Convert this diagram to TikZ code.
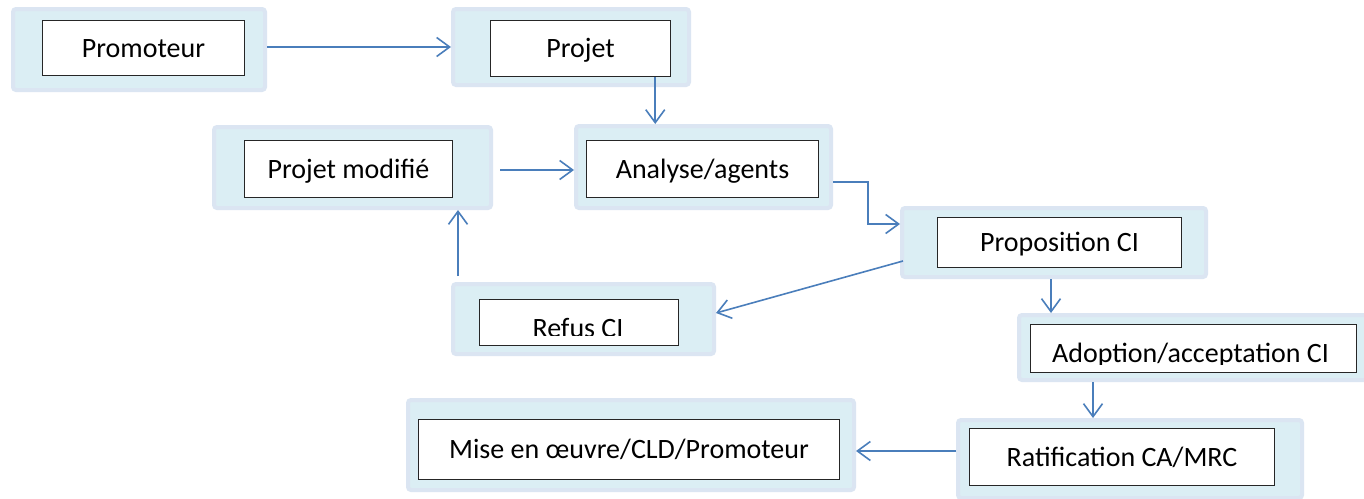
\documentclass[tikz,border=0pt]{standalone}
\usepackage{fontspec}
\setmainfont{Carlito}
\usetikzlibrary{arrows.meta,calc}
\definecolor{arrowblue}{RGB}{74,126,187}
\definecolor{outerfill}{RGB}{219,238,244}
\definecolor{outerline}{RGB}{219,229,242}
\begin{document}
\begin{tikzpicture}[x=1pt,y=-1pt,
  outerbox/.style={draw=outerline, fill=outerfill, line width=4pt, rounded corners=3pt, inner sep=0pt},
  innerbox/.style={draw=black!85, fill=white, line width=1.5pt, inner sep=0pt,
    font=\fontsize{28}{32}\selectfont, text height=18pt, text depth=0pt},
  txt/.style={inner sep=0pt, font=\fontsize{28}{32}\selectfont},
  arr/.style={draw=arrowblue, line width=1.6pt, -{Straight Barb[length=13pt,width=19pt]}}]
\clip (0,0) rectangle (1364,498);
\fill[white] (0,0) rectangle (1364,498);

% outer (light blue) boxes
\node[outerbox, minimum width=252pt, minimum height=81pt] (promO) at (139,49.5) {};
\node[outerbox, minimum width=236pt, minimum height=76pt] (projO) at (571,47) {};
\node[outerbox, minimum width=277pt, minimum height=81pt] (pmO) at (352.5,167.5) {};
\node[outerbox, minimum width=255pt, minimum height=82pt] (anaO) at (703.5,167) {};
\node[outerbox, minimum width=304pt, minimum height=69pt] (propO) at (1054,242.5) {};
\node[outerbox, minimum width=261pt, minimum height=70pt] (refO) at (583.5,319) {};
\node[outerbox, minimum width=351pt, minimum height=65pt] (adoO) at (1194.5,347.5) {};
\node[outerbox, minimum width=446pt, minimum height=90pt] (mO) at (631,445) {};
\node[outerbox, minimum width=344pt, minimum height=78pt] (ratO) at (1130,459) {};

% inner (white) boxes
\node[innerbox, minimum width=202pt, minimum height=55pt] (promI) at (143.5,48) {Promoteur};
\node[innerbox, minimum width=180pt, minimum height=56pt] (projI) at (580.5,48.5) {Projet};
\node[innerbox, minimum width=208pt, minimum height=57pt] (pmI) at (348.5,169) {Projet modifié};
\node[innerbox, minimum width=232pt, minimum height=57pt] (anaI) at (702.5,169) {Analyse/agents};
\node[innerbox, minimum width=244pt, minimum height=50pt] (propI) at (1059.5,242.5) {Proposition CI};
\node[innerbox, minimum width=199pt, minimum height=46pt] (refI) at (579,322.5) {};
\node[innerbox, minimum width=326pt, minimum height=48pt] (adoI) at (1193.5,348.5) {};
\node[innerbox, minimum width=421pt, minimum height=60pt] (mI) at (629,449.5) {Mise en œuvre/CLD/Promoteur};
\node[innerbox, minimum width=305pt, minimum height=57pt] (ratI) at (1122,457) {Ratification CA/MRC};

% texts cut at the bottom
\begin{scope}
  \clip (480,300) rectangle (678,335.5);
  \node[txt, anchor=base] (refT) at (578,337.3) {Refus CI};
\end{scope}
\begin{scope}
  \clip (1031,325) rectangle (1356,364);
  \node[txt, anchor=base] (adoT) at (1190.5,362) {Adoption/acceptation CI};
\end{scope}

% connectors
\draw[arr] (projO.west -| promO.east) -- (projO.west);
\draw[arr] ($(projI.south east)+(-16,0)$) coordinate (c1) -- (c1 |- anaO.north);
\draw[arr] ($(pmO.east)+(7,2.5)$) coordinate (c2) -- (c2 -| anaO.west);
\draw[arr] ($(anaO.east)+(0,15)$) -- ++(35,0) |- ($(propO.west)+(0,-18.5)$);
\draw[arr] ($(propO.west)+(3,18.5)$) -- ($(refO.east)+(0,-6)$);
\draw[arr] ($(refO.north west)+(7,-6)$) coordinate (c3) -- (c3 |- pmO.south);
\draw[arr] ($(propO.south)+(-3,0)$) coordinate (c4) -- (c4 |- adoO.north);
\draw[arr] ($(adoO.south west)+(76,0)$) coordinate (c5) -- (c5 |- ratO.north);
\draw[arr] ($(ratO.west)+(0,-8)$) coordinate (c6) -- (c6 -| mO.east);
\end{tikzpicture}
\end{document}
